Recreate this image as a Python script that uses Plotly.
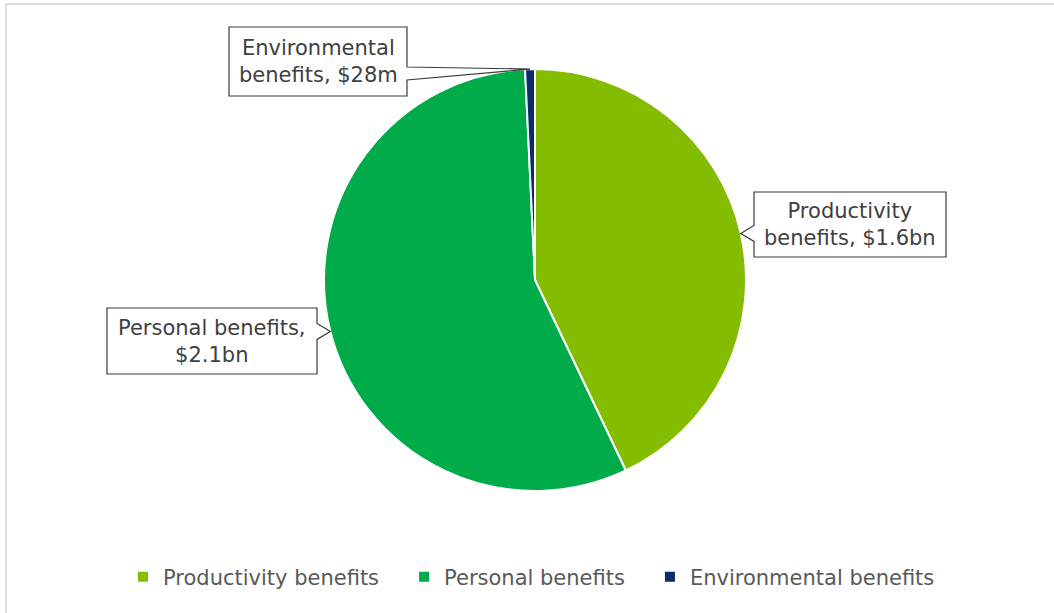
import math
import plotly.graph_objects as go

# Benefit categories and values ($bn)
categories = ["Productivity benefits", "Personal benefits", "Environmental benefits"]
values_bn = [1.6, 2.1, 0.028]
value_labels = ["$1.6bn", "$2.1bn", "$28m"]
label_lines = [
    ["Productivity", "benefits, {v}"],
    ["Personal benefits,", "{v}"],
    ["Environmental", "benefits, {v}"],
]
colors = ["#84BD00", "#00AB4A", "#0C2B6B"]

W, H = 1054, 613
# pie placement in pixels
CX, CY, R = 535, 280, 211

# label boxes in pixels: (left, top, right, bottom, pointer side, pointer half-width)
boxes = [
    (754, 192, 946, 257, "left", 8),
    (107, 308, 317, 374, "right", 8),
    (229, 27, 407, 96, "right", 0),
]

# extra spacing after each legend entry
legend_pad = "\u00a0" * 3


def px(x):
    return x / W


def py(y):
    return 1 - y / H


legend_names = [c + legend_pad if i < len(categories) - 1 else c
                for i, c in enumerate(categories)]

fig = go.Figure(
    go.Pie(
        labels=legend_names,
        values=values_bn,
        sort=False,
        direction="clockwise",
        rotation=0,
        textinfo="none",
        hovertext=categories,
        hoverinfo="text+value",
        marker=dict(colors=colors, line=dict(color="white", width=2)),
        domain=dict(x=[px(CX - R), px(CX + R)], y=[py(CY + R), py(CY - R)]),
    )
)

# slice mid-angles (clockwise from 12 o'clock) give the callout tips
total = sum(values_bn)
cum = 0.0
tips = []
for v in values_bn:
    mid = (cum + v / 2) / total * 2 * math.pi
    cum += v
    tips.append((CX + R * math.sin(mid), CY - R * math.cos(mid)))

shapes = []
annotations = []
for i, (l, t, r, b, side, hw) in enumerate(boxes):
    tx, ty = tips[i]
    if side == "left":
        y0, y1 = ty - hw, ty + hw
        pts = [(l, t), (r, t), (r, b), (l, b), (l, y1), (tx, ty), (l, y0)]
    else:
        if hw:
            y0, y1 = ty - hw, ty + hw
        else:
            y0, y1 = t + 40, t + 53
        pts = [(l, t), (r, t), (r, y0), (tx, ty), (r, y1), (r, b), (l, b)]
    path = "M" + " L".join(f"{px(x):.5f},{py(y):.5f}" for x, y in pts) + " Z"
    shapes.append(dict(type="path", xref="paper", yref="paper", path=path,
                       fillcolor="white", line=dict(color="#3a3a3a", width=1.2),
                       layer="above"))
    text = "<br>".join(s.format(v=value_labels[i]) for s in label_lines[i])
    annotations.append(dict(x=px((l + r) / 2), y=py((t + b) / 2), xref="paper", yref="paper",
                            text=text, showarrow=False, align="center",
                            xanchor="center", yanchor="middle",
                            font=dict(family="DejaVu Sans", size=21, color="#404040")))

# outer frame
shapes.append(dict(type="rect", xref="paper", yref="paper",
                   x0=px(6), y0=py(4), x1=px(1060), y1=py(620),
                   line=dict(color="#d4d4d4", width=1.5), fillcolor="rgba(0,0,0,0)",
                   layer="below"))

fig.update_layout(
    width=W, height=H,
    margin=dict(l=0, r=0, t=0, b=0),
    paper_bgcolor="white",
    plot_bgcolor="white",
    shapes=shapes,
    annotations=annotations,
    showlegend=True,
    legend=dict(orientation="h", x=px(123), xanchor="left", y=py(577), yanchor="middle",
                font=dict(family="DejaVu Sans", size=21, color="#595959"),
                traceorder="normal"),
)

fig.write_html("out.html")
